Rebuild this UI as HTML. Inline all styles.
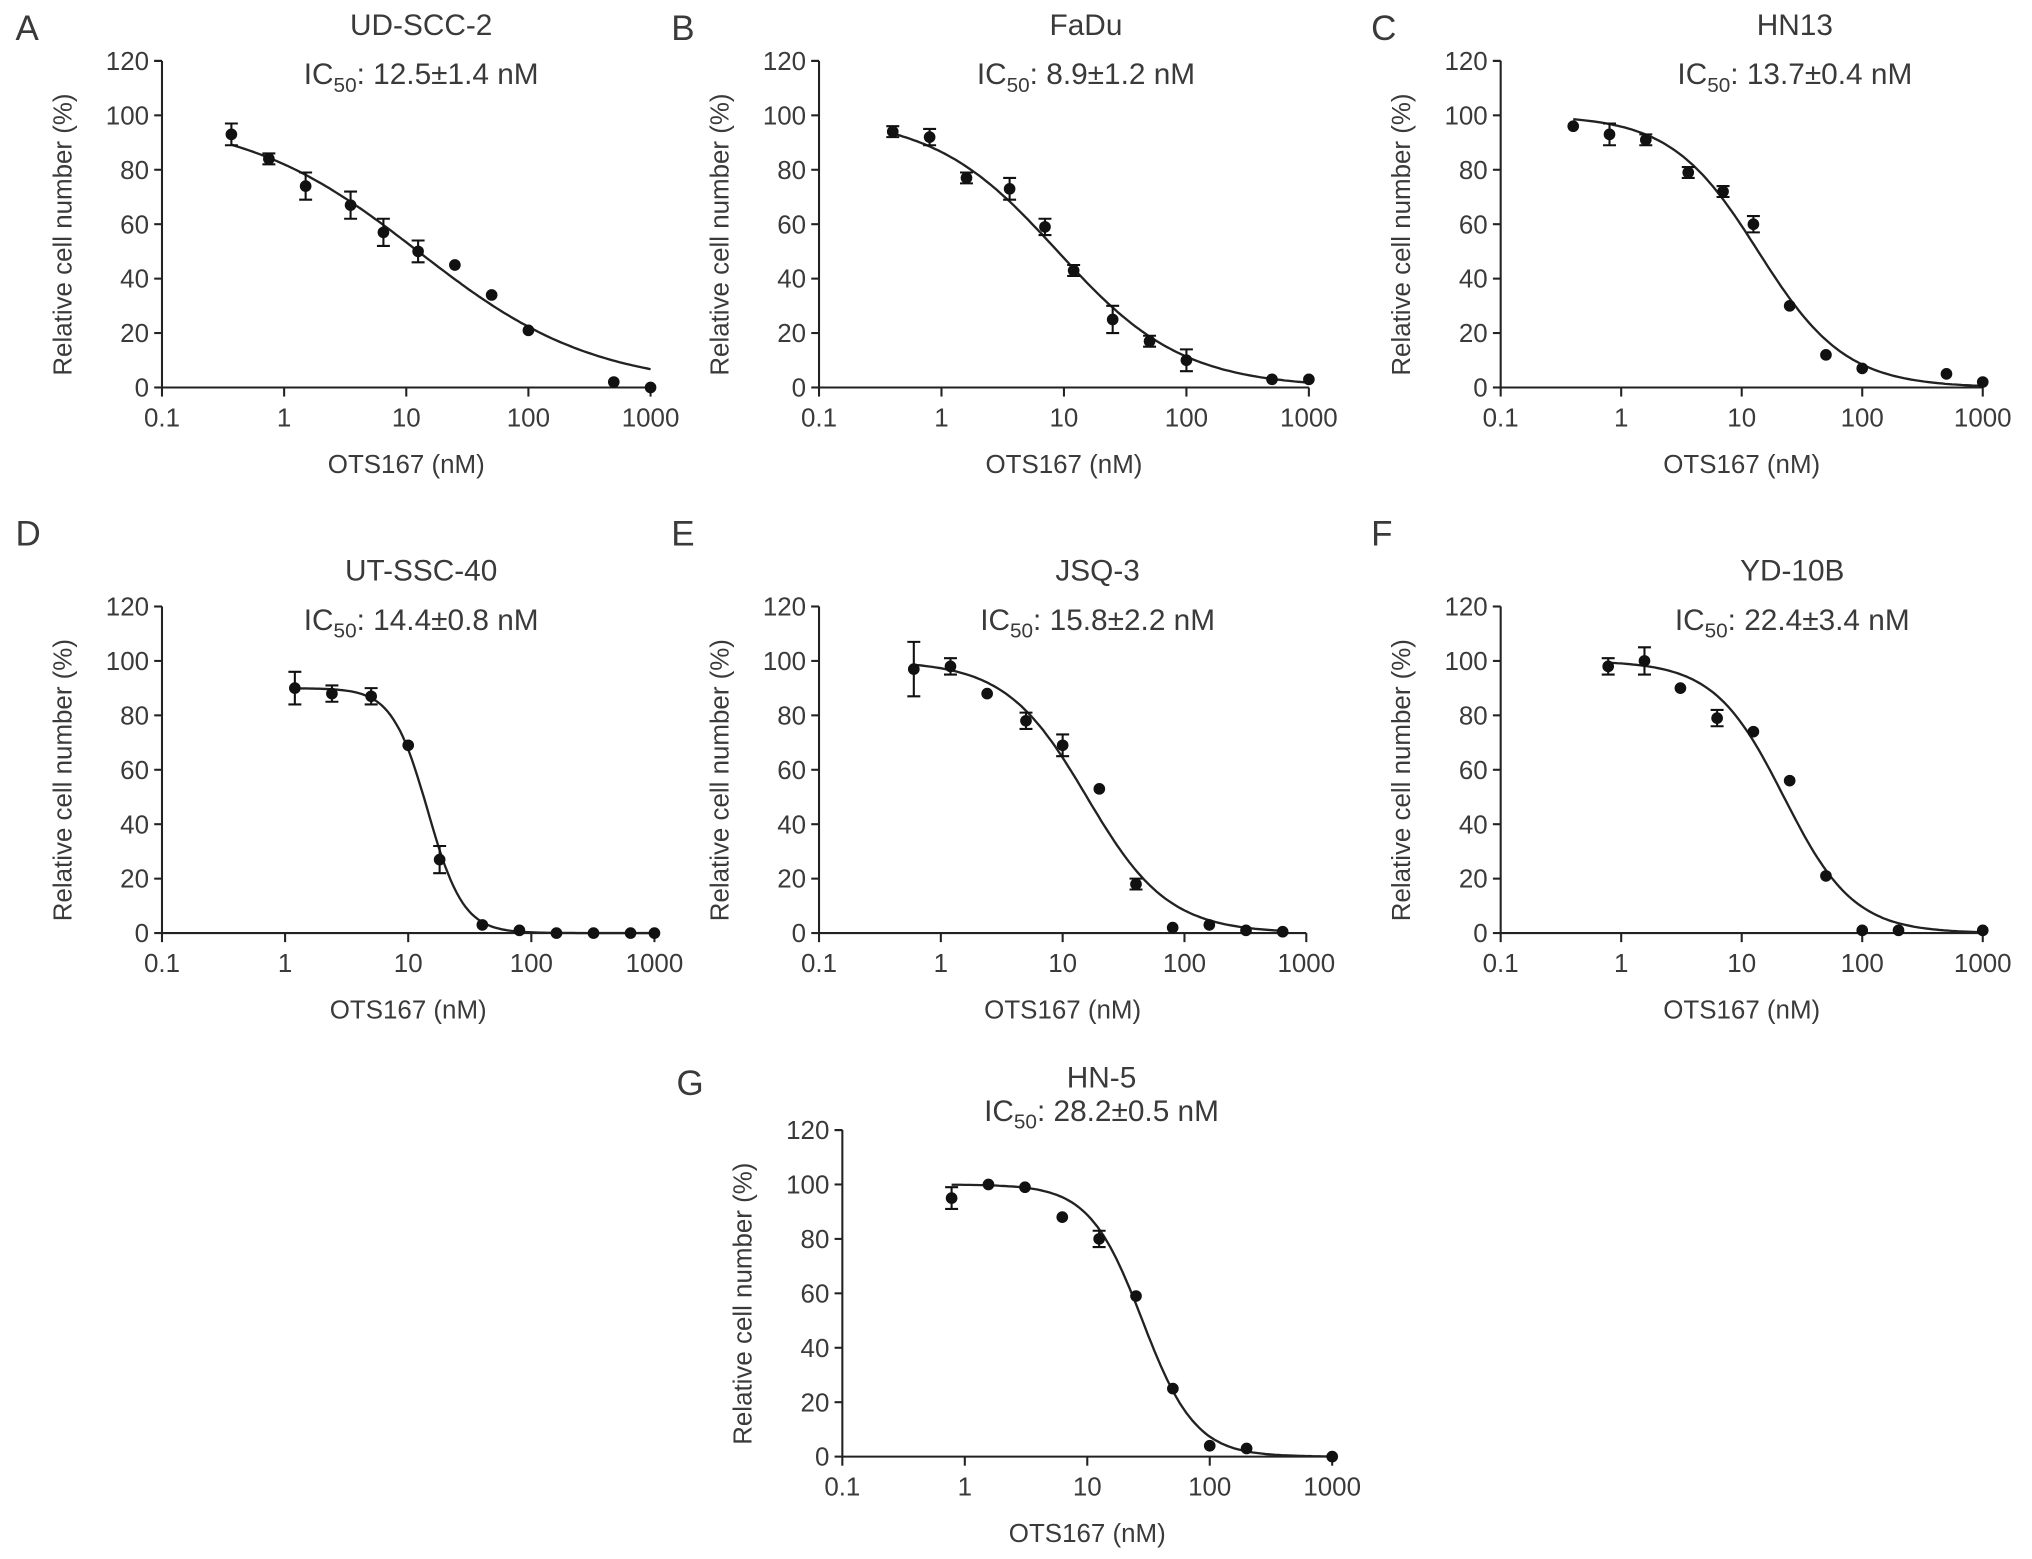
<!DOCTYPE html>
<html><head><meta charset="utf-8"><style>
html,body{margin:0;padding:0;background:#fff}
svg{display:block}
text{font-family:"Liberation Sans",sans-serif;fill:#3a3a3a}
</style></head><body>
<svg id="fig" width="2032" height="1559" viewBox="0 0 1568 1203" preserveAspectRatio="none" xmlns="http://www.w3.org/2000/svg"></svg>
<script>
// ---- data ----
const letters = ["A","B","C","D","E","F","G"];
const titles = ["UD-SCC-2","FaDu","HN13","UT-SSC-40","JSQ-3","YD-10B","HN-5"];
const ic50Text = ["12.5±1.4 nM","8.9±1.2 nM","13.7±0.4 nM","14.4±0.8 nM","15.8±2.2 nM","22.4±3.4 nM","28.2±0.5 nM"];
const concA = [0.37,0.75,1.5,3.5,6.5,12.5,25,50,100,500,1000];
const valA  = [93,84,74,67,57,50,45,34,21,2,0];
const errA  = [4,2,5,5,5,4,0,0,0,0,0];
const concB = [0.4,0.8,1.6,3.6,7,12,25,50,100,500,1000];
const valB  = [94,92,77,73,59,43,25,17,10,3,3];
const errB  = [2,3,2,4,3,2,5,2,4,0,0];
const concC = [0.4,0.8,1.6,3.6,7,12.5,25,50,100,500,1000];
const valC  = [96,93,91,79,72,60,30,12,7,5,2];
const errC  = [0,4,2,2,2,3,0,0,0,0,0];
const concD = [1.2,2.4,5,10,18,40,80,160,320,640,1000];
const valD  = [90,88,87,69,27,3,1,0,0,0,0];
const errD  = [6,3,3,0,5,0,0,0,0,0,0];
const concE = [0.6,1.2,2.4,5,10,20,40,80,160,320,640];
const valE  = [97,98,88,78,69,53,18,2,3,1,0.5];
const errE  = [10,3,0,3,4,0,2,0,0,0,0];
const concF = [0.78,1.56,3.1,6.25,12.5,25,50,100,200,1000];
const valF  = [98,100,90,79,74,56,21,1,1,1];
const errF  = [3,5,0,3,0,0,0,0,0,0];
const concG = [0.78,1.56,3.1,6.25,12.5,25,50,100,200,1000];
const valG  = [95,100,99,88,80,59,25,4,3,0];
const errG  = [4,0,0,0,3,0,0,0,0,0];
// fit parameters
const fitTop = [100,100,100,90,100,100,100];
const fitIC  = [12.5,8.9,13.7,14.4,15.8,22.4,28.2];
const fitHill= [0.6,0.85,1.2,3,1.3,1.5,2];
const fitFrom= [0.37,0.4,0.4,1.2,0.6,0.78,0.78];
const fitTo  = [1000,1000,1000,1000,640,1000,1000];
const xTicks = [0.1,1,10,100,1000];
const xTickLabels = ["0.1","1","10","100","1000"];
const yTicks = [0,20,40,60,80,100,120];

const concs=[concA,concB,concC,concD,concE,concF,concG];
const vals=[valA,valB,valC,valD,valE,valF,valG];
const errs=[errA,errB,errC,errD,errE,errF,errG];
// layout: [x0, x1, yBottom, yTop, letterX, letterY, titleX]
const layout=[[125,502,299,47,12,31,325],[632,1010,299,47,518,31,838],[1158,1530,299,47,1058,31,1385],
 [125,505,720,468,12,421,325],[632,1008,720,468,518,421,847],[1158,1530,720,468,1058,421,1383],[650,1028,1124,872,522,845,850]];
const svg=document.getElementById('fig');
const NS='http://www.w3.org/2000/svg';
function mk(tag,attrs,parent,txt){const e=document.createElementNS(NS,tag);for(const k in attrs)e.setAttribute(k,attrs[k]);if(txt!==undefined)e.textContent=txt;parent.appendChild(e);return e;}
layout.forEach((L,i)=>{
  const [x0,x1,yb,yt,lx,ly,tx]=L;
  const g=mk('g',{},svg);
  
  
  const X=c=>x0+(Math.log10(c)+1)/4*(x1-x0);
  const Y=v=>yb-v/120*(yb-yt);
  const lt=mk('text',{x:lx,y:ly,'font-size':27},g,letters[i]);
  
  const tt=mk('text',{x:tx,y:(i==6?yt-33:yt-20),'font-size':23,'text-anchor':'middle'},g,titles[i]);
  
  const ic=mk('text',{x:tx,y:(i==6?yt-7:yt+18),'font-size':23,'text-anchor':'middle'},g);
  
  mk('tspan',{},ic,'IC');mk('tspan',{dy:6,'font-size':16},ic,'50');mk('tspan',{dy:-6},ic,': '+ic50Text[i]);
  const ax=mk('path',{d:`M${x0},${yt} H${x0-6} M${x0},${yt} V${yb} H${x1}`,stroke:'#222','stroke-width':1.6,fill:'none'},g);
  
  yTicks.forEach(t=>{
    mk('line',{x1:x0-6,x2:x0,y1:Y(t),y2:Y(t),stroke:'#222','stroke-width':1.6},g);
    const tl=mk('text',{x:x0-10,y:Y(t)+7,'font-size':20,'text-anchor':'end'},g,t);
    
  });
  xTicks.forEach((t,k)=>{
    mk('line',{x1:X(t),x2:X(t),y1:yb,y2:yb+7,stroke:'#222','stroke-width':1.6},g);
    const tl=mk('text',{x:X(t),y:yb+30,'font-size':20,'text-anchor':'middle'},g,xTickLabels[k]);
    
  });
  const xl=mk('text',{x:(x0+x1)/2,y:yb+66,'font-size':20,'text-anchor':'middle'},g,'OTS167 (nM)');
  
  const yy=(yb+yt)/2+8;
  const yl=mk('text',{x:x0-70,y:yy,'font-size':20,'text-anchor':'middle',transform:`rotate(-90 ${x0-70} ${yy})`},g,'Relative cell number (%)');
  
  let d='';const a=Math.log10(fitFrom[i]),b=Math.log10(fitTo[i]);
  for(let s=0;s<=120;s++){const c=Math.pow(10,a+(b-a)*s/120);const v=fitTop[i]/(1+Math.pow(c/fitIC[i],fitHill[i]));d+=(s?'L':'M')+X(c).toFixed(1)+','+Y(v).toFixed(1);}
  const cv=mk('path',{d,stroke:'#222','stroke-width':1.8,fill:'none'},g);
  
  concs[i].forEach((c,k)=>{
    const v=vals[i][k],e=errs[i][k],px=X(c);
    if(e>0){
      const eb=mk('path',{d:`M${px},${Y(v+e)}V${Y(v-e)}M${px-5},${Y(v+e)}H${px+5}M${px-5},${Y(v-e)}H${px+5}`,stroke:'#111','stroke-width':1.6,fill:'none'},g);
      
    }
    const p=mk('circle',{cx:px,cy:Y(v),r:4.5,fill:'#111'},g);
    
  });
});
</script>
</body></html>
